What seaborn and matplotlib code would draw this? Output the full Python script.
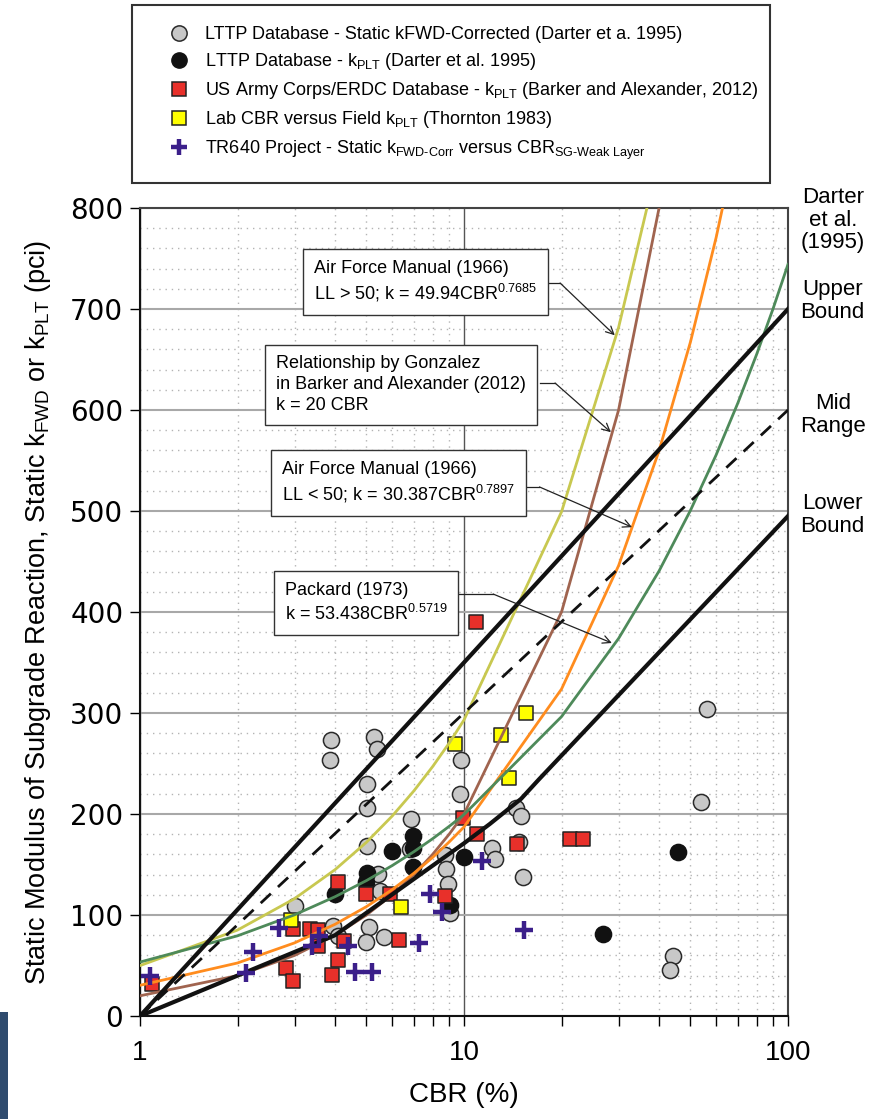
import numpy as np
import pandas as pd
import matplotlib
matplotlib.use("Agg")
import matplotlib.pyplot as plt
import seaborn as sns
from matplotlib.lines import Line2D
from matplotlib.patches import Rectangle
from matplotlib.ticker import MultipleLocator, LogLocator, NullFormatter

plt.rcParams['font.family'] = ['Liberation Sans', 'DejaVu Sans']
plt.rcParams['mathtext.fontset'] = 'custom'
plt.rcParams['mathtext.rm'] = 'Liberation Sans'
plt.rcParams['mathtext.it'] = 'Liberation Sans:italic'

# --- scatter data (CBR %, k pci) ---
gray_cbr = [3.89, 3.86, 5.28, 5.38, 5.01, 5.03, 6.86, 9.77, 9.7, 14.5, 15.0, 5.01, 6.82,
            5.44, 5.5, 3.0, 3.95, 4.09, 5.1, 4.97, 5.67, 8.74, 8.8, 8.9, 9.06, 14.8,
            12.2, 12.45, 15.2, 53.8, 56.2, 44.1, 43.2]
gray_k = [273, 253, 276, 264, 230, 206, 195, 253, 220, 206, 198, 168, 165,
          141, 124, 109, 89, 79, 88, 73, 78, 159, 146, 131, 102, 172,
          166, 155, 138, 212, 304, 59, 46]

black_cbr = [6.97, 6.95, 5.98, 6.97, 5.01, 5.0, 3.99, 10.0, 9.06, 26.9, 45.9]
black_k = [178, 166, 163, 148, 142, 133, 121, 157, 110, 81, 162]

red_cbr = [1.09, 2.83, 2.96, 2.96, 3.35, 3.55, 3.55, 3.92, 4.09, 4.07, 4.26, 4.98,
           5.9, 6.31, 8.74, 9.9, 11.0, 10.9, 14.6, 21.3, 23.3]
red_k = [32, 48, 35, 86, 86, 85, 69, 41, 55, 133, 74, 121,
         121, 75, 119, 196, 180, 390, 170, 175, 175]

yellow_cbr = [2.92, 6.39, 9.39, 13.0, 15.5, 13.8]
yellow_k = [95, 108, 269, 278, 300, 236]

plus_cbr = [1.07, 2.13, 2.23, 2.69, 3.39, 3.57, 4.38, 4.61, 5.19, 7.28, 7.85, 8.58, 11.35, 15.33]
plus_k = [40, 43, 63, 87, 69, 79, 69, 44, 44, 72, 121, 103, 153, 85]

# --- correlation curves (values at the plotted nodes) ---
afm_hi_cbr = [1, 2, 3, 4, 5, 6, 7, 8, 9, 10, 20, 30, 40]
afm_hi_k = [49.9, 85.1, 116.2, 144.9, 172.0, 197.9, 222.8, 246.9, 270.2, 293.1, 499.2, 681.7, 850.6]

gonz_cbr = [1, 2, 3, 4, 5, 6, 7, 8, 9, 10, 20, 30, 40, 50]
gonz_k = [20, 40, 60, 80, 100, 120, 140, 160, 180, 200, 400, 600, 800, 1000]

afm_lo_cbr = [1, 2, 3, 4, 5, 6, 7, 8, 9, 10, 20, 30, 40, 50, 60, 70]
afm_lo_k = [30.4, 52.5, 72.4, 90.8, 108.3, 125.1, 141.3, 157.0, 172.3, 187.2,
            323.7, 445.9, 559.7, 667.4, 770.7, 870.6]

pack_cbr = [1, 2, 3, 4, 5, 6, 7, 8, 9, 10, 20, 30, 40, 50, 60, 70, 80, 90, 100]
pack_k = [53.4, 79.4, 100.2, 118.1, 134.1, 148.9, 162.6, 175.5, 187.8, 199.4,
          296.4, 373.8, 440.6, 500.6, 555.5, 606.8, 655.0, 700.6, 744.2]

upper_cbr = [1, 100]
upper_k = [0, 700]
mid_cbr = [1, 100]
mid_k = [0, 600]
lower_cbr = [1, 2, 4, 10, 12, 15, 17, 100]
lower_k = [0, 40, 80, 171, 190, 215, 234, 495]

fig = plt.figure(figsize=(8.7, 11.19), dpi=100)
ax = fig.add_axes([140 / 870, 1 - 1016 / 1119, 648 / 870, 808 / 1119])
ax.set_xscale('log')

# scatter layers
sns.scatterplot(x=gray_cbr, y=gray_k, marker='o', s=135, color='#c8c8c8',
                edgecolor='#2a2a2a', linewidth=1.1, ax=ax, zorder=2)
sns.scatterplot(x=black_cbr, y=black_k, marker='o', s=135, color='#111111',
                edgecolor='#111111', linewidth=1.1, ax=ax, zorder=2)
sns.scatterplot(x=red_cbr, y=red_k, marker='s', s=100, color='#e8302a',
                edgecolor='#222222', linewidth=1.1, ax=ax, zorder=2)
sns.scatterplot(x=yellow_cbr, y=yellow_k, marker='s', s=100, color='#ffff00',
                edgecolor='#222222', linewidth=1.1, ax=ax, zorder=2)

# curves
line_kw = dict(ax=ax, estimator=None, sort=False, zorder=3)
sns.lineplot(x=afm_hi_cbr, y=afm_hi_k, color='#c8c850', linewidth=2.0, **line_kw)
sns.lineplot(x=gonz_cbr, y=gonz_k, color='#a0644f', linewidth=2.0, **line_kw)
sns.lineplot(x=afm_lo_cbr, y=afm_lo_k, color='#ff8c1e', linewidth=2.0, **line_kw)
sns.lineplot(x=pack_cbr, y=pack_k, color='#4e8a5a', linewidth=2.0, **line_kw)
sns.lineplot(x=upper_cbr, y=upper_k, color='#111111', linewidth=3.0, **line_kw)
sns.lineplot(x=mid_cbr, y=mid_k, color='#111111', linewidth=2.0,
             linestyle=(0, (5, 3.5)), **line_kw)
sns.lineplot(x=lower_cbr, y=lower_k, color='#111111', linewidth=3.0, **line_kw)

sns.scatterplot(x=plus_cbr, y=plus_k, marker='+', s=150, color='#3b1f8a',
                linewidth=3.2, ax=ax, zorder=4)

ax.set_xlim(1, 100)
ax.set_ylim(0, 800)

# grid
ax.set_yticks(range(0, 801, 100))
ax.yaxis.set_minor_locator(MultipleLocator(20))
ax.set_xticks([1, 10, 100], labels=['1', '10', '100'])
ax.xaxis.set_minor_locator(LogLocator(base=10, subs=np.arange(2, 10)))
ax.xaxis.set_minor_formatter(NullFormatter())
ax.grid(which='major', axis='y', color='#a8a8a8', lw=1.5, ls='-', zorder=0)
ax.grid(which='minor', axis='y', color='#b4b4b4', lw=1.0, ls=(0, (1, 3.5)), zorder=0)
ax.grid(which='major', axis='x', color='#555555', lw=1.0, ls='-', zorder=0)
ax.grid(which='minor', axis='x', color='#b4b4b4', lw=1.0, ls=(0, (1, 3.5)), zorder=0)
ax.set_axisbelow(True)

ax.tick_params(axis='y', which='major', direction='out', length=7, width=1, pad=5,
               labelsize=20)
for lab in ax.get_yticklabels():
    lab.set_family('DejaVu Sans')
ax.tick_params(axis='y', which='minor', length=0)
ax.tick_params(axis='x', which='both', direction='out', length=7, width=1, pad=10,
               labelsize=20)

for side in ['left', 'bottom']:
    ax.spines[side].set_color('#111111')
    ax.spines[side].set_linewidth(1.5)
for side in ['top', 'right']:
    ax.spines[side].set_color('#444444')
    ax.spines[side].set_linewidth(1.5)

ax.set_xlabel('CBR (%)', fontsize=20, labelpad=12)
ax.set_ylabel('Static Modulus of Subgrade Reaction, Static $\\mathregular{k_{FWD}}$ or '
              '$\\mathregular{k_{PLT}}$ (pci)', fontsize=19.5, labelpad=12)

# callout boxes
box_kw = dict(fontsize=13, ha='left', va='center', linespacing=1.3, zorder=6,
              bbox=dict(boxstyle='square,pad=0.6', fc='white', ec='#333333', lw=1.0))
ax.text(3.44, 727, 'Air Force Manual (1966)\nLL > 50; k = 49.94CBR$^{\\mathregular{0.7685}}$', **box_kw)
ax.text(2.63, 625, 'Relationship by Gonzalez\nin Barker and Alexander (2012)\nk = 20 CBR', **box_kw)
ax.text(2.74, 528, 'Air Force Manual (1966)\nLL < 50; k = 30.387CBR$^{\\mathregular{0.7897}}$', **box_kw)
ax.text(2.80, 409, 'Packard (1973)\nk = 53.438CBR$^{\\mathregular{0.5719}}$', **box_kw)

arrow_kw = dict(arrowstyle='->', color='#222222', lw=0.9, mutation_scale=14,
                shrinkA=0, shrinkB=0)
callouts = [((18.0, 725.7), (19.8, 725.7), (29.2, 674)),
            ((17.2, 626.7), (19.1, 626.7), (28.4, 578)),
            ((15.3, 523.8), (17.1, 523.8), (33.0, 484)),
            ((9.67, 417.8), (12.3, 417.8), (28.6, 369.3))]
for start, bend, tip in callouts:
    ax.plot([start[0], bend[0]], [start[1], bend[1]], color='#222222', lw=0.9, zorder=5)
    ax.annotate('', xy=tip, xytext=bend, arrowprops=arrow_kw, zorder=5)

# bound labels outside the plot
yx = ax.get_yaxis_transform()
side_kw = dict(transform=yx, ha='center', va='center', fontsize=16, linespacing=1.1,
               clip_on=False)
ax.text(1.069, 788, 'Darter\net al.\n(1995)', **side_kw)
ax.text(1.069, 708, 'Upper\nBound', **side_kw)
ax.text(1.069, 595, 'Mid\nRange', **side_kw)
ax.text(1.069, 496, 'Lower\nBound', **side_kw)

# legend
handles = [
    Line2D([], [], ls='', marker='o', markersize=11, markerfacecolor='#c8c8c8',
           markeredgecolor='#2a2a2a', markeredgewidth=1.1),
    Line2D([], [], ls='', marker='o', markersize=11, markerfacecolor='#111111',
           markeredgecolor='#111111'),
    Line2D([], [], ls='', marker='s', markersize=10, markerfacecolor='#e8302a',
           markeredgecolor='#222222', markeredgewidth=1.1),
    Line2D([], [], ls='', marker='s', markersize=10, markerfacecolor='#ffff00',
           markeredgecolor='#222222', markeredgewidth=1.1),
    Line2D([], [], ls='', marker='+', markersize=12, markeredgecolor='#3b1f8a',
           markeredgewidth=3.2),
]
labels = [
    'LTTP Database - Static kFWD-Corrected (Darter et a. 1995)',
    'LTTP Database - $\\mathregular{k_{PLT}}$ (Darter et al. 1995)',
    'US Army Corps/ERDC Database - $\\mathregular{k_{PLT}}$ (Barker and Alexander, 2012)',
    'Lab CBR versus Field $\\mathregular{k_{PLT}}$ (Thornton 1983)',
    'TR640 Project - Static $\\mathregular{k_{FWD\u2010Corr}}$ versus '
    '$\\mathregular{CBR_{SG\u2010Weak\\ Layer}}$',
]
fig.legend(handles, labels, loc='upper left', bbox_to_anchor=(159 / 870, 1 - 17 / 1119),
           frameon=False, borderpad=0, fontsize=13, handlelength=1.2,
           handletextpad=0.85, labelspacing=0.45)
fig.add_artist(Rectangle((132 / 870, 1 - 183 / 1119), 638 / 870, 178 / 1119,
                         transform=fig.transFigure, fill=False, ec='#333333', lw=1.5))

# dark slide edge at bottom left
fig.add_artist(Rectangle((0, 0), 8 / 870, 107 / 1119, transform=fig.transFigure,
                         color='#2f4b6e', lw=0))

fig.savefig('out.png', dpi=100)
